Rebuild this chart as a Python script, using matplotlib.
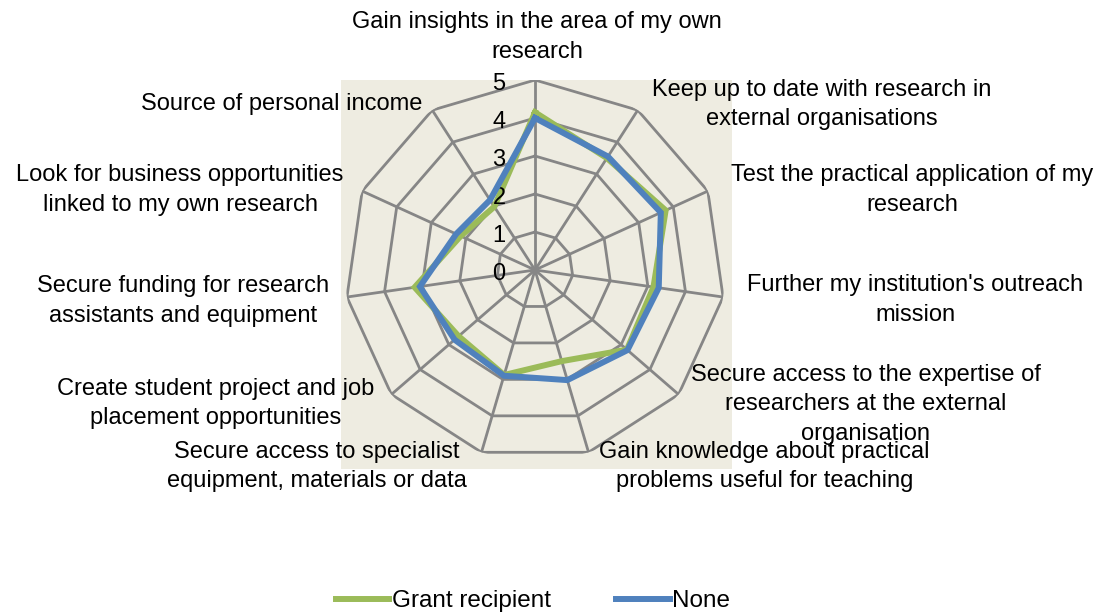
"""Radar chart: motives for engaging with external organisations."""

import matplotlib

matplotlib.use("Agg")

import matplotlib.pyplot as plt
import numpy as np

categories = [
    "Gain insights in the area of my own\nresearch",
    "Keep up to date with research in\nexternal organisations",
    "Test the practical application of my\nresearch",
    "Further my institution's outreach\nmission",
    "Secure access to the expertise of\nresearchers at the external\norganisation",
    "Gain knowledge about practical\nproblems useful for teaching",
    "Secure access to specialist\nequipment, materials or data",
    "Create student project and job\nplacement opportunities",
    "Secure funding for research\nassistants and equipment",
    "Look for business opportunities\nlinked to my own research",
    "Source of personal income",
]
grant_recipient = [4.15, 3.5, 3.78, 3.15, 3.2, 2.5, 2.88, 2.66, 3.2, 2.15, 1.98]
none_values = [4.0, 3.55, 3.64, 3.29, 3.22, 3.02, 2.9, 2.8, 3.06, 2.28, 2.19]
ticks = [0, 1, 2, 3, 4, 5]

# label offsets from the outer vertex, in pixels
label_offsets = [(2, 43), (184, 6), (204, 1), (192, -3), (187, -10), (176, -14),
                 (-165, -14), (-176, -9), (-164, -4), (-182, 1), (-151, 6)]

plt.rcParams["font.family"] = ["Liberation Sans", "DejaVu Sans"]
FS = 17

W, H = 1102, 614
fig = plt.figure(figsize=(W / 100, H / 100), dpi=100)

# plot area background
bg = fig.add_axes([341 / W, (H - 469) / H, 391 / W, 389 / H], facecolor="#EEECE1")
bg.set_xticks([])
bg.set_yticks([])
for s in bg.spines.values():
    s.set_visible(False)

cx, cy, rad = 535, 270, 190
ax = fig.add_axes([(cx - rad) / W, (H - cy - rad) / H, 2 * rad / W, 2 * rad / H],
                  projection="polar")
ax.patch.set_visible(False)
ax.set_theta_zero_location("N")
ax.set_theta_direction(-1)
ax.set_ylim(0, 5)
ax.set_xticks([])
ax.set_yticks([])
ax.grid(False)
ax.spines["polar"].set_visible(False)

n = len(categories)
theta = np.arange(n) * 2 * np.pi / n
closed = np.append(theta, theta[0])
grid_color = "#868686"

for r in ticks[1:]:
    ax.plot(closed, [r] * (n + 1), color=grid_color, lw=2.0, zorder=1)
for t in theta:
    ax.plot([t, t], [0, ticks[-1]], color=grid_color, lw=2.0, zorder=1)

ax.plot(closed, grant_recipient + grant_recipient[:1], color="#9BBB59", lw=4.3,
        label="Grant recipient", zorder=3, solid_joinstyle="miter")
ax.plot(closed, none_values + none_values[:1], color="#4F81BD", lw=4.3,
        label="None", zorder=4, solid_joinstyle="miter")

for r in ticks:
    ax.annotate(str(r), (0, r), xytext=(-36, -4), textcoords="offset pixels",
                ha="center", va="center", fontsize=FS)

for t, lab, off in zip(theta, categories, label_offsets):
    ax.annotate(lab, (t, ticks[-1]), xytext=off, textcoords="offset pixels",
                ha="center", va="center", fontsize=FS, linespacing=1.43,
                multialignment="center", annotation_clip=False)

handles, labels = ax.get_legend_handles_labels()
fig.legend(handles, labels, loc="center", bbox_to_anchor=(533 / W, (H - 601) / H),
           ncol=2, frameon=False, fontsize=FS + 0.5, handlelength=2.2, handletextpad=0.1,
           columnspacing=2.7)

fig.savefig("out.png", dpi=100)
